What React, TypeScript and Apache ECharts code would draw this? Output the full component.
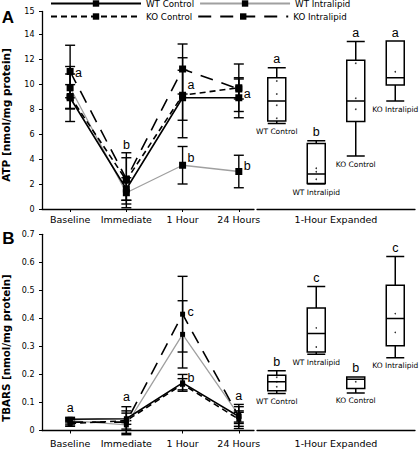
import React, { useEffect, useRef } from "react";
import * as echarts from "echarts";

// ---------- data ----------
const timePoints = ["Baseline", "Immediate", "1 Hour", "24 Hours"];
const groups = ["WT Control", "WT Intralipid", "KO Control", "KO Intralipid"];

// Panel A: ATP (nmol/mg protein), mean and error per time point
const atpWTControl = [8.9, 1.6, 8.9, 8.9];
const atpWTIntralipid = [9.7, 1.3, 3.5, 3.0];
const atpKOControl = [9.0, 2.3, 9.1, 9.7];
const atpKOIntralipid = [11.0, 2.4, 11.2, 9.6];
const atpWTControlErr = [1.9, 0.9, 3.2, 1.6];
const atpWTIntralipidErr = [1.7, 0.9, 1.5, 1.3];
const atpKOControlErr = [0.95, 2.2, 2.0, 1.9];
const atpKOIntralipidErr = [2.1, 1.7, 2.0, 0.8];

// Panel B: TBARS (nmol/mg protein)
const tbarsWTControl = [0.04, 0.042, 0.17, 0.05];
const tbarsWTIntralipid = [0.035, 0.02, 0.343, 0.055];
const tbarsKOControl = [0.025, 0.035, 0.165, 0.04];
const tbarsKOIntralipid = [0.03, 0.03, 0.415, 0.05];
const tbarsWTControlErr = [0.007, 0.02, 0.03, 0.02];
const tbarsWTIntralipidErr = [0.008, 0.015, 0.12, 0.03];
const tbarsKOControlErr = [0.01, 0.05, 0.02, 0.025];
const tbarsKOIntralipidErr = [0.01, 0.04, 0.135, 0.043];

// 1-hour expanded boxes: [min, Q1, median, Q3, max]
const atpBoxes = [
  [6.85, 7.04, 8.64, 10.5, 11.3],
  [2.0, 2.05, 2.8, 5.25, 5.47],
  [4.24, 7.0, 8.64, 11.9, 13.4],
  [8.64, 9.92, 10.5, 13.44, 13.44],
];
const tbarsBoxes = [
  [0.132, 0.142, 0.174, 0.197, 0.213],
  [0.272, 0.28, 0.346, 0.437, 0.514],
  [0.134, 0.15, 0.183, 0.191, 0.191],
  [0.26, 0.302, 0.4, 0.518, 0.621],
];
const atpBoxDots = [
  [10.24, 9.2, 8.3, 7.26],
  [3.26, 2.98, 2.38],
  [11.66, 8.86, 7.98],
  [10.98],
];
const tbarsBoxDots = [
  [0.19, 0.174, 0.156],
  [0.366, 0.298],
  [0.174],
  [0.417, 0.35],
];
const atpBoxLetters = ["a", "b", "a", "a"];
const tbarsBoxLetters = ["b", "c", "b", "c"];

// significance letters on the time course: [timeIndex, value, letter]
const atpLettersSide = [
  [0, 10.9, "a"],
  [2, 9.9, "a"],
  [2, 4.05, "b"],
  [3, 9.2, "a"],
  [3, 3.47, "b"],
];
const atpLettersAbove = [[1, 5.1, "b"]];
const tbarsLettersSide = [
  [2, 0.423, "c"],
  [2, 0.189, "b"],
];
const tbarsLettersAbove = [
  [0, 0.079, "a"],
  [1, 0.118, "a"],
  [3, 0.123, "a"],
];

const atpMax = 15.8;
const atpTickInterval = 2;
const tbarsMax = 0.7;
const tbarsTickInterval = 0.1;
const panelLabels = ["A", "B"];
const yNames = ["ATP [nmol/mg protein]", "TBARS [nmol/mg protein]"];
const expandedName = "1-Hour Expanded";

// ---------- styles ----------
const FONT = "DejaVu Sans";
const LFONT = "Liberation Sans";
const LETTER_FONT = `12.5px ${LFONT}`;
const BOXNAME_FONT = `7.5px ${FONT}`;
const groupLine: Record<string, any> = {
  "WT Control": { color: "#000", type: "solid", width: 1.6 },
  "WT Intralipid": { color: "#a0a0a0", type: "solid", width: 1.3 },
  "KO Control": { color: "#000", type: [6, 4], width: 1.6 },
  "KO Intralipid": { color: "#000", type: [13, 9], width: 1.6 },
};
const drawOrder = [1, 0, 2, 3];

function lineSeries(means: number[][], xi: number, yi: number, size: number) {
  return drawOrder.map((g) => ({
    type: "line",
    name: groups[g],
    xAxisIndex: xi,
    yAxisIndex: yi,
    data: means[g].map((v, i) => [i, v]),
    symbol: "rect",
    symbolSize: size,
    itemStyle: { color: "#000" },
    lineStyle: groupLine[groups[g]],
    z: 3,
    emphasis: { disabled: true },
  }));
}

function errorSeries(means: number[][], errs: number[][], xi: number, yi: number) {
  const data: number[][] = [];
  means.forEach((arr, g) =>
    arr.forEach((v, i) => data.push([i, v - errs[g][i], v + errs[g][i]]))
  );
  return {
    type: "custom",
    xAxisIndex: xi,
    yAxisIndex: yi,
    z: 2,
    data,
    encode: { x: 0, y: [1, 2] },
    renderItem: (_p: any, api: any) => {
      const x = api.value(0);
      const lo = api.coord([x, api.value(1)]);
      const hi = api.coord([x, api.value(2)]);
      const hw = 5;
      const st = { stroke: "#000", lineWidth: 1.4 };
      return {
        type: "group",
        children: [
          { type: "line", shape: { x1: lo[0], y1: lo[1], x2: hi[0], y2: hi[1] }, style: st },
          { type: "line", shape: { x1: lo[0] - hw, y1: lo[1], x2: lo[0] + hw, y2: lo[1] }, style: st },
          { type: "line", shape: { x1: hi[0] - hw, y1: hi[1], x2: hi[0] + hw, y2: hi[1] }, style: st },
        ],
      };
    },
  };
}

// text annotations anchored at data coordinates; mode: right | center | top | bottom
function textSeries(items: any[][], xi: number, yi: number, mode: string, dist: number, font: string) {
  const texts = items.map((d) => String(d[2]));
  return {
    type: "custom",
    xAxisIndex: xi,
    yAxisIndex: yi,
    z: 6,
    silent: true,
    data: items.map((d) => [d[0], d[1]]),
    encode: { x: 0, y: 1 },
    renderItem: (p: any, api: any) => {
      const c = api.coord([api.value(0), api.value(1)]);
      let x = c[0], y = c[1], align = "center", va = "middle";
      if (mode === "right") { x += dist; align = "left"; }
      if (mode === "top") { y -= dist; va = "bottom"; }
      if (mode === "bottom") { y += dist; va = "top"; }
      return {
        type: "text",
        x,
        y,
        style: { text: texts[p.dataIndex], fill: "#000", font, align, verticalAlign: va },
      };
    },
  };
}

function boxSeries(boxes: number[][], dots: number[][], letters: string[], xi: number, yi: number) {
  const dotData: number[][] = [];
  dots.forEach((arr, i) => arr.forEach((v) => dotData.push([i, v])));
  return [
    {
      type: "boxplot",
      xAxisIndex: xi,
      yAxisIndex: yi,
      data: boxes,
      boxWidth: [18, 18],
      itemStyle: { color: "#fff", borderColor: "#000", borderWidth: 1.5 },
      emphasis: { disabled: true },
    },
    {
      type: "scatter",
      xAxisIndex: xi,
      yAxisIndex: yi,
      symbolSize: 1.6,
      itemStyle: { color: "#000" },
      data: dotData,
      z: 4,
    },
    textSeries(boxes.map((b, i) => [i, b[0], groups[i]]), xi, yi, "bottom", 4, BOXNAME_FONT),
    textSeries(boxes.map((b, i) => [i, b[4], letters[i]]), xi, yi, "top", 2, LETTER_FONT),
  ];
}

const axisLine = { show: true, onZero: false, lineStyle: { color: "#000", width: 1.3 } };

function timeAxis(gridIndex: number, margin: number) {
  return {
    type: "value",
    gridIndex,
    min: -0.5,
    max: 3.27,
    splitLine: { show: false },
    axisLine,
    axisTick: { show: true, customValues: [0, 1, 2, 3], length: 3, lineStyle: { color: "#000" } },
    axisLabel: {
      customValues: [0, 1, 2, 3],
      formatter: (v: number) => timePoints[Math.round(v)],
      fontFamily: FONT,
      fontSize: 9.5,
      color: "#000",
      margin,
    },
  };
}
function boxAxis(gridIndex: number, gap: number) {
  return {
    type: "category",
    gridIndex,
    data: groups,
    axisLine,
    axisTick: { show: false },
    axisLabel: { show: false },
    name: expandedName,
    nameLocation: "middle",
    nameGap: gap,
    nameTextStyle: { fontFamily: FONT, fontSize: 9.5, color: "#000" },
  };
}

export default function App() {
  const ref = useRef<HTMLDivElement>(null);
  useEffect(() => {
    document.body.style.margin = "0";
    const chart = echarts.init(ref.current!, null, { renderer: "svg" });
    const atpMeans = [atpWTControl, atpWTIntralipid, atpKOControl, atpKOIntralipid];
    const atpErrs = [atpWTControlErr, atpWTIntralipidErr, atpKOControlErr, atpKOIntralipidErr];
    const tbMeans = [tbarsWTControl, tbarsWTIntralipid, tbarsKOControl, tbarsKOIntralipid];
    const tbErrs = [tbarsWTControlErr, tbarsWTIntralipidErr, tbarsKOControlErr, tbarsKOIntralipidErr];

    const legendBase = {
      left: 50,
      itemWidth: 90,
      itemHeight: 8,
      itemGap: 5,
      padding: 0,
      selectedMode: false,
      textStyle: { fontFamily: FONT, fontSize: 8.7, color: "#000", width: 55 },
    };

    const option: any = {
      animation: false,
      backgroundColor: "#fff",
      legend: [
        { ...legendBase, top: -1, data: [groups[0], groups[1]] },
        { ...legendBase, top: 12, data: [groups[2], groups[3]] },
      ],
      grid: [
        { left: 42, top: 11.5, width: 212, height: 197.5 },
        { left: 257, top: 11.5, width: 158, height: 197.5 },
        { left: 42, top: 234.3, width: 212, height: 196.2 },
        { left: 257, top: 234.3, width: 158, height: 196.2 },
      ],
      xAxis: [timeAxis(0, 5), boxAxis(1, 5), timeAxis(2, 8), boxAxis(3, 8)],
      yAxis: [
        {
          type: "value",
          gridIndex: 0,
          min: 0,
          max: atpMax,
          interval: atpTickInterval,
          splitLine: { show: false },
          axisLine,
          axisTick: { show: true, length: 3, lineStyle: { color: "#000" } },
          axisLabel: {
            fontFamily: FONT,
            fontSize: 8,
            color: "#000",
            margin: 7.5,
            formatter: (v: number) => (v > 15 ? "15" : String(v)),
          },
        },
        { type: "value", gridIndex: 1, min: 0, max: atpMax, show: false },
        {
          type: "value",
          gridIndex: 2,
          min: 0,
          max: tbarsMax,
          interval: tbarsTickInterval,
          splitLine: { show: false },
          axisLine,
          axisTick: { show: true, length: 3, lineStyle: { color: "#000" } },
          axisLabel: { fontFamily: FONT, fontSize: 8, color: "#000", margin: 7.5 },
        },
        { type: "value", gridIndex: 3, min: 0, max: tbarsMax, show: false },
      ],
      graphic: [
        { type: "text", x: 8, y: 17.5, style: { text: panelLabels[0], font: `bold 17px ${LFONT}`, fill: "#000", align: "center", verticalAlign: "middle" } },
        { type: "text", x: 8.3, y: 238.3, style: { text: panelLabels[1], font: `bold 17px ${LFONT}`, fill: "#000", align: "center", verticalAlign: "middle" } },
        { type: "text", x: 5.5, y: 115, rotation: Math.PI / 2, style: { text: yNames[0], font: `bold 10.5px ${FONT}`, fill: "#000", align: "center", verticalAlign: "middle" } },
        { type: "text", x: 5.5, y: 348, rotation: Math.PI / 2, style: { text: yNames[1], font: `bold 10.3px ${FONT}`, fill: "#000", align: "center", verticalAlign: "middle" } },
      ],
      series: [
        errorSeries(atpMeans, atpErrs, 0, 0),
        ...lineSeries(atpMeans, 0, 0, 7),
        textSeries(atpLettersSide, 0, 0, "right", 5, LETTER_FONT),
        textSeries(atpLettersAbove, 0, 0, "center", 0, LETTER_FONT),
        ...boxSeries(atpBoxes, atpBoxDots, atpBoxLetters, 1, 1),
        errorSeries(tbMeans, tbErrs, 2, 2),
        ...lineSeries(tbMeans, 2, 2, 5),
        textSeries(tbarsLettersSide, 2, 2, "right", 5, LETTER_FONT),
        textSeries(tbarsLettersAbove, 2, 2, "center", 0, LETTER_FONT),
        ...boxSeries(tbarsBoxes, tbarsBoxDots, tbarsBoxLetters, 3, 3),
      ],
    };
    chart.setOption(option);
    return () => chart.dispose();
  }, []);
  return <div ref={ref} style={{ width: 420, height: 450 }} />;
}
